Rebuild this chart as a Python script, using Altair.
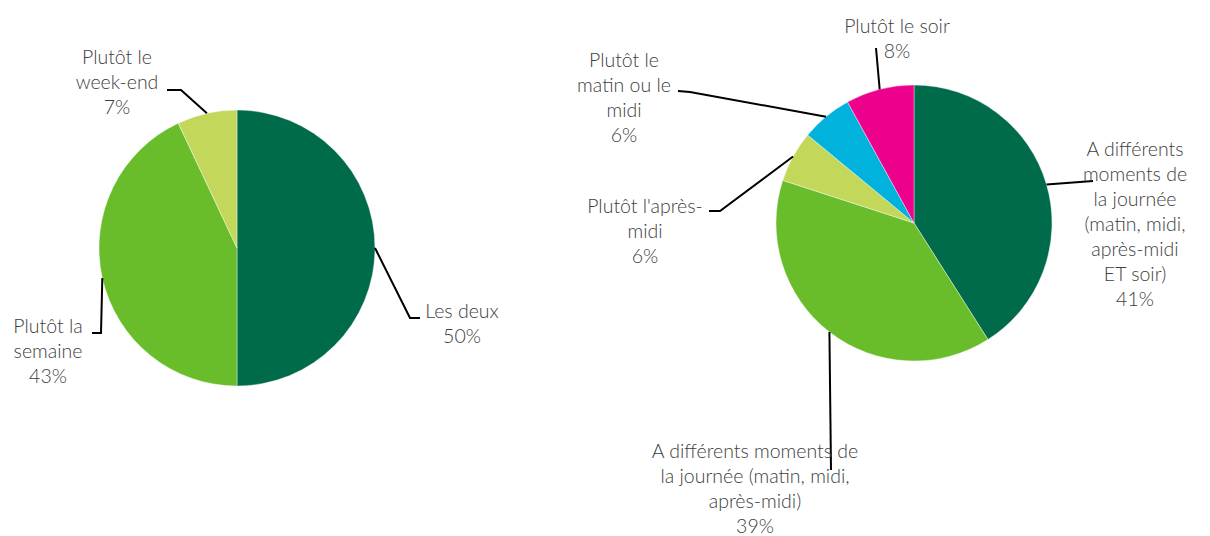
import math
import altair as alt
import pandas as pd

W, H = 1194, 528

# ---- data ----
left_cats = ["Les deux", "Plutôt la semaine", "Plutôt le week-end"]
left_vals = [50, 43, 7]
left_label_lines = ["Les deux", "Plutôt la\nsemaine", "Plutôt le\nweek-end"]

right_cats = [
    "A différents moments de la journée (matin, midi, après-midi ET soir)",
    "A différents moments de la journée (matin, midi, après-midi)",
    "Plutôt l'après-midi",
    "Plutôt le matin ou le midi",
    "Plutôt le soir",
]
right_vals = [41, 39, 6, 6, 8]
right_label_lines = [
    "A différents\nmoments de\nla journée\n(matin, midi,\naprès-midi\nET soir)",
    "A différents moments de\nla journée (matin, midi,\naprès-midi)",
    "Plutôt l'après-\nmidi",
    "Plutôt le\nmatin ou le\nmidi",
    "Plutôt le soir",
]

# ---- styles / layout ----
left_colors = ["#006B4A", "#6ABD2A", "#C3D85A"]
right_colors = ["#006B4A", "#6ABD2A", "#C3D85A", "#00B2DC", "#EC008C"]
OFF = 8  # page margin
left_center = (237 - OFF, 248 - OFF)
right_center = (914 - OFF, 223 - OFF)
R = 138

# label anchor (center x, first-line center y) in page coords
left_label_pos = [(462, 312), (48, 327), (117, 58)]
right_label_pos = [(1135, 150), (755, 452), (645, 207), (624, 61), (897, 27)]
# leader-line bend/end points (page coords), after the slice edge point
left_leader = [[(410, 318), (420, 318)], [(101, 333), (92, 333)], [(181, 90), (167, 90)]]
right_leader = [[(1093, 181)], [(831, 470)], [(720, 211), (709, 211)],
                [(690, 92), (678, 91)], [(876, 48)]]

FONT = "Lato"
FS = 19.5
LH = 25
TXT = "#404040"


def pie_layers(name, cats, vals, lines, colors, center, lpos, leaders):
    df = pd.DataFrame({"cat": cats, "value": vals, "idx": list(range(len(cats)))})
    arc = alt.Chart(df).mark_arc(outerRadius=R, stroke="white", strokeWidth=0.4).encode(
        theta=alt.Theta("value:Q", stack=True),
        order=alt.Order("idx:Q"),
        color=alt.Color("cat:N", scale=alt.Scale(domain=cats, range=colors), legend=None),
        x=alt.value(center[0]),
        y=alt.value(center[1]),
    )
    total = sum(vals)
    rows = []
    cum = 0
    for i, v in enumerate(vals):
        mid = (cum + v / 2) / total * 2 * math.pi
        cum += v
        ex = center[0] + R * math.sin(mid)
        ey = center[1] - R * math.cos(mid)
        pts = [(ex, ey)] + [(px - OFF, py - OFF) for px, py in leaders[i]]
        for k, (px, py) in enumerate(pts):
            rows.append({"seg": f"{name}{i}", "k": k, "x": px, "y": py})
    ldf = pd.DataFrame(rows)
    xs = alt.Scale(domain=[0, W], range=[0, W], nice=False, zero=False)
    ys = alt.Scale(domain=[0, H], range=[0, H], nice=False, zero=False)
    leader = alt.Chart(ldf).mark_line(color="black", strokeWidth=2).encode(
        x=alt.X("x:Q", scale=xs, axis=None),
        y=alt.Y("y:Q", scale=ys, axis=None),
        detail="seg:N",
        order="k:Q",
    )
    tdf = pd.DataFrame({
        "label": [f"{l}\n{v}%" for l, v in zip(lines, vals)],
        "x": [p[0] - OFF for p in lpos],
        "y": [p[1] - OFF - 9 for p in lpos],
    })
    text = alt.Chart(tdf).mark_text(
        align="center", baseline="top", lineBreak="\n", lineHeight=LH,
        font=FONT, fontSize=FS, fontWeight=300, color=TXT,
    ).encode(
        x=alt.X("x:Q", scale=xs, axis=None),
        y=alt.Y("y:Q", scale=ys, axis=None),
        text="label:N",
    )
    return arc, leader, text


la, ll, lt = pie_layers("L", left_cats, left_vals, left_label_lines, left_colors,
                        left_center, left_label_pos, left_leader)
ra, rl, rt = pie_layers("R", right_cats, right_vals, right_label_lines, right_colors,
                        right_center, right_label_pos, right_leader)

chart = alt.layer(la, ra, ll, rl, lt, rt).resolve_scale(
    theta="independent", color="independent"
).properties(
    width=W, height=H, padding=0, autosize="none", background="white"
).configure_view(stroke=None)

chart.save("out.html", embed_options={"renderer": "svg", "actions": False})
